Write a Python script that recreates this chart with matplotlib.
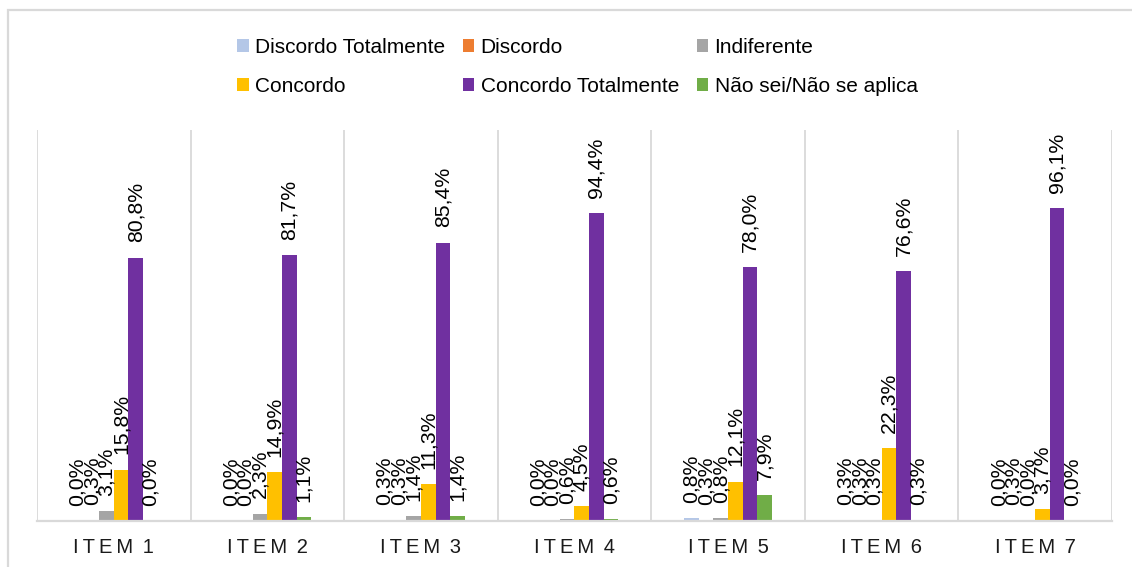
import numpy as np
import matplotlib
matplotlib.use("Agg")
import matplotlib.pyplot as plt
from matplotlib.patches import Rectangle

plt.rcParams['font.family'] = ['Liberation Sans', 'DejaVu Sans']

# answers per item, in percent
items = ["ITEM 1", "ITEM 2", "ITEM 3", "ITEM 4", "ITEM 5", "ITEM 6", "ITEM 7"]
series = ["Discordo Totalmente", "Discordo", "Indiferente",
          "Concordo", "Concordo Totalmente", "Não sei/Não se aplica"]
discordo_totalmente = [0.0, 0.0, 0.3, 0.0, 0.8, 0.3, 0.0]
discordo = [0.3, 0.0, 0.3, 0.0, 0.3, 0.3, 0.3]
indiferente = [3.1, 2.3, 1.4, 0.6, 0.8, 0.3, 0.0]
concordo = [15.8, 14.9, 11.3, 4.5, 12.1, 22.3, 3.7]
concordo_totalmente = [80.8, 81.7, 85.4, 94.4, 78.0, 76.6, 96.1]
nao_sei = [0.0, 1.1, 1.4, 0.6, 7.9, 0.3, 0.0]

values = [discordo_totalmente, discordo, indiferente, concordo, concordo_totalmente, nao_sei]
colors = ["#B4C7E7", "#ED7D31", "#A5A5A5", "#FFC000", "#7030A0", "#70AD47"]

fig = plt.figure(figsize=(11.32, 5.67), dpi=100)
ax = fig.add_axes([0.0327, 0.0811, 0.9496, 0.6896])

# light frame around the chart area
fig.patches.append(Rectangle((8 / 1132, -0.1), 1.2, 1 - 10 / 567 + 0.1,
                             transform=fig.transFigure, fill=False,
                             edgecolor="#D9D9D9", linewidth=1.6))

x = np.arange(len(items))
width = 0.095
handles = []
for i, (vals, col, name) in enumerate(zip(values, colors, series)):
    pos = x + (i - 2.5) * width
    bars = ax.bar(pos, vals, width, color=col, label=name, zorder=3)
    handles.append(bars)
    for xp, v in zip(pos, vals):
        ax.annotate(f"{v:.1f}".replace(".", ",") + "%", (xp, v),
                    xytext=(0, 11), textcoords="offset points",
                    rotation=90, ha="center", va="bottom",
                    fontsize=15.3, color="black", zorder=4)

# separators between the items
for b in np.arange(-0.5, len(items), 1.0):
    ax.axvline(b, color="#D9D9D9", linewidth=1.3, zorder=1)

ax.set_xlim(-0.5, len(items) - 0.5)
ax.set_ylim(0, 120)
ax.set_yticks([])
ax.set_xticks(x)
ax.set_xticklabels(["\u2009".join(t[:4]) + "\u2009 " + t[5:] for t in items],
                   fontsize=14.5, color="#1a1a1a")
ax.tick_params(axis="x", length=0, pad=12)
for s in ["top", "left", "right"]:
    ax.spines[s].set_visible(False)
ax.spines["bottom"].set_color("#D9D9D9")
ax.spines["bottom"].set_linewidth(1.6)
ax.spines["bottom"].set_zorder(5)

# legend filled row by row
order = [0, 3, 1, 4, 2, 5]
fig.legend([handles[k] for k in order], [series[k] for k in order],
           ncol=3, loc="center", bbox_to_anchor=(0.51, 0.882),
           frameon=False, fontsize=15, handlelength=0.55, handleheight=0.55,
           handletextpad=0.3, columnspacing=0.86, labelspacing=0.98)

fig.savefig("out.png", dpi=100)
